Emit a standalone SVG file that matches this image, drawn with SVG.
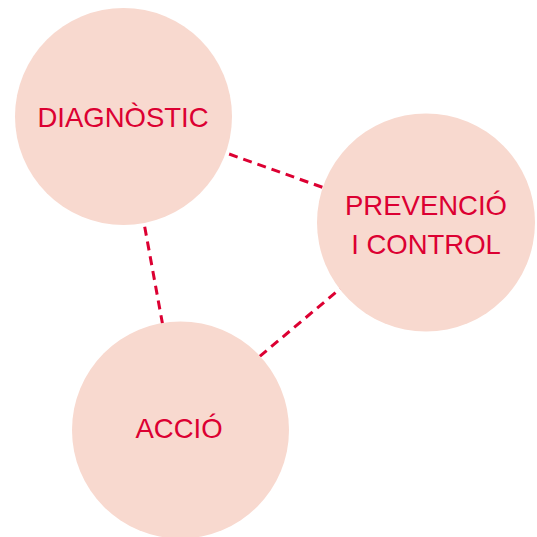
<svg xmlns="http://www.w3.org/2000/svg" width="537" height="537" viewBox="0 0 537 537">
<style>
.node{fill:#f8d9cf}
.lbl{fill:#dc0032;font-family:"Liberation Sans",Arial,sans-serif;font-size:27.5px;text-anchor:middle}
.link{stroke:#dc0032;stroke-width:3;stroke-dasharray:9 6;fill:none}
</style>
<rect width="537" height="537" fill="#ffffff"/>
<g id="connectors">
<line class="link" x1="215" y1="149" x2="330" y2="190"/>
<line class="link" x1="142" y1="212" x2="164" y2="332"/>
<line class="link" x1="347" y1="283" x2="253" y2="362"/>
</g>
<g id="diagnostic">
<circle class="node" cx="123.5" cy="116.5" r="108.5"/>
<text class="lbl" x="123" y="127">DIAGNÒSTIC</text>
</g>
<g id="prevencio">
<circle class="node" cx="426" cy="222.5" r="109"/>
<text class="lbl" x="426" y="215">PREVENCIÓ</text>
<text class="lbl" x="426" y="254">I CONTROL</text>
</g>
<g id="accio">
<circle class="node" cx="180.5" cy="430" r="108.5"/>
<text class="lbl" x="179" y="438">ACCIÓ</text>
</g>
</svg>
